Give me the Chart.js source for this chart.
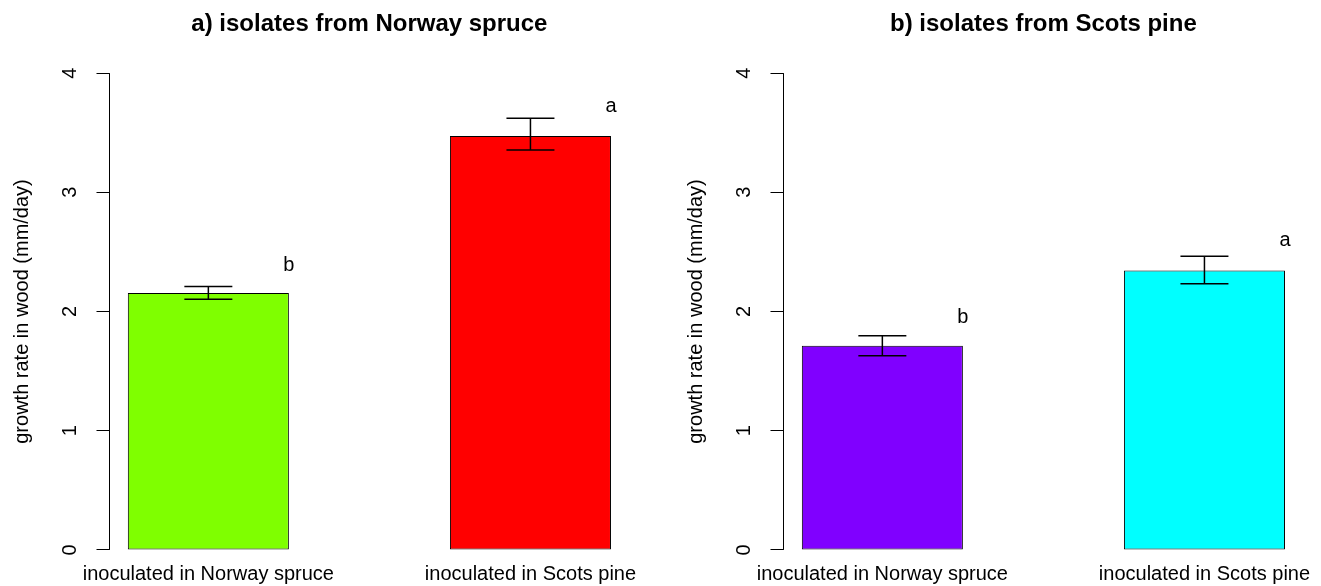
<!DOCTYPE html>
<html>
<head>
<meta charset="utf-8">
<script src="https://cdn.jsdelivr.net/npm/chart.js@4.4.1/dist/chart.umd.min.js"></script>
<style>
  html, body { margin: 0; padding: 0; background: #fff; overflow: hidden; }
  .panel { position: absolute; top: 0; width: 660px; height: 586px; }
  #panelA { left: 0; }
  #panelB { left: 674px; }
</style>
</head>
<body>
<div class="panel" id="panelA"><canvas id="chartA" width="660" height="586"></canvas></div>
<div class="panel" id="panelB"><canvas id="chartB" width="660" height="586"></canvas></div>
<script>
const categories = ['inoculated in Norway spruce', 'inoculated in Scots pine'];
const yTicks = [0, 1, 2, 3, 4];

// a) isolates from Norway spruce
const spruceMeans = [2.155, 3.472];
const spruceLower = [2.103, 3.354];
const spruceUpper = [2.209, 3.621];
const spruceLetters = ['b', 'a'];
const spruceLetterY = [2.39, 3.72];

// b) isolates from Scots pine
const pineMeans = [1.712, 2.343];
const pineLower = [1.628, 2.233];
const pineUpper = [1.796, 2.463];
const pineLetters = ['b', 'a'];
const pineLetterY = [1.95, 2.595];

// barplot geometry (width 1, space 1): bars centred at 1.5, 3.5
const barCenters = categories.map((_, i) => 1.5 + 2 * i);

Chart.defaults.font.family = '"Liberation Sans", Arial, Helvetica, sans-serif';
Chart.defaults.font.size = 20;
Chart.defaults.color = '#000';

const rMarks = {
  id: 'rMarks',
  afterDatasetsDraw(chart, args, opts) {
    const { ctx, scales: { x, y } } = chart;
    ctx.save();
    ctx.strokeStyle = '#000';
    ctx.lineWidth = 1;
    // axis line only between first and last tick, like R's axis()
    const ax = Math.round(chart.chartArea.left) + 0.5;
    ctx.beginPath();
    ctx.moveTo(ax, y.getPixelForValue(yTicks[0]));
    ctx.lineTo(ax, y.getPixelForValue(yTicks[yTicks.length - 1]));
    ctx.stroke();

    // error bars
    ctx.lineWidth = 1.5;
    opts.lower.forEach((lo, i) => {
      const cx = x.getPixelForValue(barCenters[i]);
      const y1 = y.getPixelForValue(lo);
      const y2 = y.getPixelForValue(opts.upper[i]);
      ctx.beginPath();
      ctx.moveTo(cx, y1); ctx.lineTo(cx, y2);
      ctx.moveTo(cx - 24, y1); ctx.lineTo(cx + 24, y1);
      ctx.moveTo(cx - 24, y2); ctx.lineTo(cx + 24, y2);
      ctx.stroke();
    });

    // significance letters at the right edge of each bar
    ctx.fillStyle = '#000';
    ctx.font = '20px "Liberation Sans", Arial, sans-serif';
    ctx.textAlign = 'center';
    ctx.textBaseline = 'middle';
    opts.letters.forEach((t, i) => {
      ctx.fillText(t, x.getPixelForValue(barCenters[i] + 0.5), y.getPixelForValue(opts.letterY[i]));
    });
    ctx.restore();
  }
};

function makePanel(canvasId, title, means, lower, upper, letters, letterY, colors) {
  return new Chart(document.getElementById(canvasId), {
    type: 'bar',
    data: {
      datasets: [{
        data: means.map((v, i) => ({ x: barCenters[i], y: v })),
        backgroundColor: colors,
        borderColor: '#000',
        borderWidth: 1,
        borderSkipped: false,
        categoryPercentage: 0.5,
        barPercentage: 1
      }]
    },
    options: {
      responsive: false,
      animation: false,
      layout: { padding: { left: 0, right: 29.7, top: 0, bottom: 0 } },
      plugins: {
        legend: { display: false },
        tooltip: { enabled: false },
        title: {
          display: true,
          fullSize: false,
          text: title,
          color: '#000',
          font: { size: 24, weight: 'bold' },
          padding: { top: 10, bottom: 15.2 }
        },
        rMarks: { lower, upper, letters, letterY }
      },
      scales: {
        x: {
          type: 'linear',
          offset: false,
          min: 0.88,
          max: 4.12,
          bounds: 'data',
          afterBuildTicks: (s) => { s.ticks = barCenters.map(v => ({ value: v })); },
          ticks: {
            autoSkip: false,
            minRotation: 0,
            maxRotation: 0,
            mirror: true,
            padding: -17,
            color: '#000',
            callback: (v, i) => categories[i]
          },
          grid: { display: false, offset: false },
          border: { display: false },
          afterFit: (s) => { s.height = 17; s.paddingLeft = 0; s.paddingRight = 0; }
        },
        y: {
          min: -0.16,
          max: 4.16,
          afterBuildTicks: (s) => { s.ticks = yTicks.map(v => ({ value: v })); },
          border: { display: false },
          grid: { drawOnChartArea: false, drawTicks: true, tickLength: 12, color: '#000', lineWidth: 1 },
          ticks: {
            minRotation: 90,
            maxRotation: 90,
            crossAlign: 'center',
            padding: 20,
            color: '#000',
            callback: (v) => v
          },
          title: {
            display: true,
            text: 'growth rate in wood (mm/day)',
            color: '#000',
            font: { size: 20 },
            padding: { top: 10, bottom: 0 }
          },
          afterFit: (s) => { s.width = 108.5; s.paddingTop = 0; s.paddingBottom = 0; }
        }
      }
    },
    plugins: [rMarks]
  });
}

makePanel('chartA', 'a) isolates from Norway spruce', spruceMeans, spruceLower, spruceUpper,
  spruceLetters, spruceLetterY, ['#7FFF00', '#FF0000']);
makePanel('chartB', 'b) isolates from Scots pine', pineMeans, pineLower, pineUpper,
  pineLetters, pineLetterY, ['#8000FF', '#00FFFF']);
</script>
</body>
</html>
